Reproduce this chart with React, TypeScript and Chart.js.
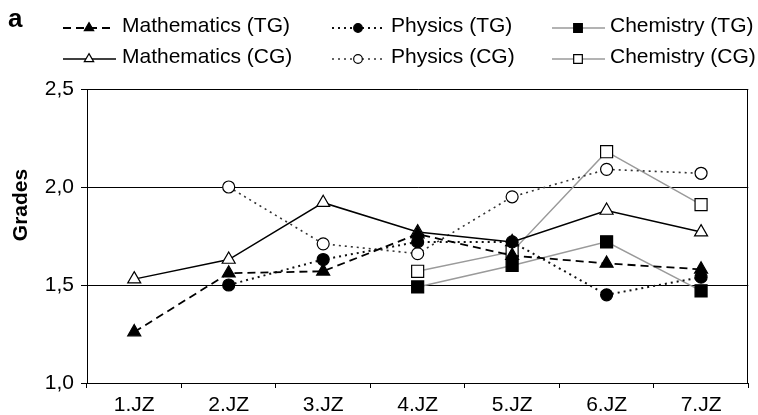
import React, { useEffect, useRef } from "react";
import { Chart, registerables } from "chart.js";

Chart.register(...registerables);

// ---------- data ----------
const categories = ["1.JZ", "2.JZ", "3.JZ", "4.JZ", "5.JZ", "6.JZ", "7.JZ"];
const mathTG = [1.26, 1.56, 1.57, 1.76, 1.65, 1.61, 1.58];
const physicsTG = [null, 1.5, 1.63, 1.72, 1.72, 1.45, 1.54];
const chemistryTG = [null, null, null, 1.49, 1.6, 1.72, 1.47];
const mathCG = [1.53, 1.63, 1.92, 1.77, 1.72, 1.88, 1.77];
const physicsCG = [null, 2.0, 1.71, 1.66, 1.95, 2.09, 2.07];
const chemistryCG = [null, null, null, 1.57, 1.67, 2.18, 1.91];
const yTicks = [1.0, 1.5, 2.0, 2.5];
const seriesLabels = [
  "Mathematics (TG)",
  "Physics (TG)",
  "Chemistry (TG)",
  "Mathematics (CG)",
  "Physics (CG)",
  "Chemistry (CG)",
];
const yTitle = "Grades";
const panelLetter = "a";

// ---------- styles ----------
const FONT = "'Liberation Sans', Arial, Helvetica, sans-serif";
type Marker = "triangle" | "circle" | "rect";
const styles: {
  color: string;
  dash: number[];
  width: number;
  marker: Marker;
  filled: boolean;
  radius: number;
}[] = [
  { color: "#000", dash: [8, 5], width: 1.8, marker: "triangle", filled: true, radius: 7.5 },
  { color: "#111", dash: [2, 4], width: 2, marker: "circle", filled: true, radius: 6 },
  { color: "#9a9a9a", dash: [], width: 1.5, marker: "rect", filled: true, radius: 8.5 },
  { color: "#000", dash: [], width: 1.5, marker: "triangle", filled: false, radius: 7.5 },
  { color: "#333", dash: [2, 4], width: 1.6, marker: "circle", filled: false, radius: 6 },
  { color: "#9a9a9a", dash: [], width: 1.5, marker: "rect", filled: false, radius: 8.5 },
];
// legend layout: [x0, x1, markerX, textX, rowY]
const legendPos = [
  [63, 114, 89, 122, 26],
  [332, 383, 358, 391, 26],
  [552, 605, 578, 610, 26],
  [63, 116, 89, 122, 57],
  [332, 383, 358, 391, 57],
  [552, 605, 578, 610, 57],
];

function drawMarker(
  ctx: CanvasRenderingContext2D,
  type: Marker,
  x: number,
  y: number,
  r: number,
  filled: boolean
) {
  ctx.save();
  ctx.setLineDash([]);
  ctx.lineWidth = 1.2;
  ctx.strokeStyle = "#000";
  ctx.fillStyle = filled ? "#000" : "#fff";
  ctx.beginPath();
  if (type === "circle") {
    ctx.arc(x, y, r, 0, Math.PI * 2);
  } else if (type === "triangle") {
    let a = 0;
    for (let i = 0; i < 3; i++) {
      const px = x + Math.sin(a) * r;
      const py = y - Math.cos(a) * r;
      if (i === 0) ctx.moveTo(px, py);
      else ctx.lineTo(px, py);
      a += (2 * Math.PI) / 3;
    }
    ctx.closePath();
  } else {
    const s = Math.SQRT1_2 * r;
    ctx.rect(x - s, y - s, 2 * s, 2 * s);
  }
  ctx.fill();
  ctx.stroke();
  ctx.restore();
}

const decorPlugin = {
  id: "decor",
  afterDraw(chart: any) {
    const ctx: CanvasRenderingContext2D = chart.ctx;
    const a = chart.chartArea;
    ctx.save();
    // right frame
    ctx.strokeStyle = "#000";
    ctx.lineWidth = 1;
    ctx.setLineDash([]);
    ctx.beginPath();
    ctx.moveTo(Math.round(a.right) - 0.5, a.top);
    ctx.lineTo(Math.round(a.right) - 0.5, a.bottom);
    ctx.stroke();

    // panel letter
    ctx.fillStyle = "#000";
    ctx.font = `bold 26px ${FONT}`;
    ctx.textAlign = "left";
    ctx.textBaseline = "alphabetic";
    ctx.fillText(panelLetter, 8, 27);

    // y title
    ctx.save();
    ctx.translate(27, 205);
    ctx.rotate(-Math.PI / 2);
    ctx.font = `bold 21px ${FONT}`;
    ctx.textAlign = "center";
    ctx.textBaseline = "alphabetic";
    ctx.fillText(yTitle, 0, 0);
    ctx.restore();

    // legend
    seriesLabels.forEach((lab, i) => {
      const st = styles[i];
      const [x0, x1, mx, tx, ry] = legendPos[i];
      const ly = ry + 2;
      ctx.save();
      ctx.strokeStyle = st.color;
      ctx.lineWidth = st.width;
      ctx.setLineDash(st.dash);
      ctx.beginPath();
      ctx.moveTo(x0, ly);
      ctx.lineTo(x1, ly);
      ctx.stroke();
      ctx.restore();
      drawMarker(ctx, st.marker, mx, ly, st.radius * 0.72, st.filled);
      ctx.fillStyle = "#000";
      ctx.font = `21px ${FONT}`;
      ctx.textAlign = "left";
      ctx.textBaseline = "middle";
      ctx.fillText(lab, tx, ry);
    });
    ctx.restore();
  },
};

export default function App() {
  const ref = useRef<HTMLCanvasElement | null>(null);

  useEffect(() => {
    document.body.style.margin = "0";
    const canvas = ref.current;
    if (!canvas) return;
    const series = [mathTG, physicsTG, chemistryTG, mathCG, physicsCG, chemistryCG];
    const datasets = series.map((d, i) => {
      const st = styles[i];
      return {
        label: seriesLabels[i],
        data: d,
        borderColor: st.color,
        borderWidth: st.width,
        borderDash: st.dash,
        pointStyle: st.marker,
        pointRadius: st.radius,
        pointHoverRadius: st.radius,
        pointBackgroundColor: st.filled ? "#000" : "#fff",
        pointBorderColor: "#000",
        pointBorderWidth: 1.2,
        fill: false,
        tension: 0,
        spanGaps: false,
      };
    });

    const chart = new Chart(canvas, {
      type: "line",
      data: { labels: categories, datasets: datasets as any },
      options: {
        animation: false,
        responsive: false,
        maintainAspectRatio: false,
        layout: { padding: { top: 89, right: 7, left: 0, bottom: 0 } },
        plugins: {
          legend: { display: false },
          title: { display: false },
          tooltip: { enabled: false },
        },
        scales: {
          x: {
            type: "category",
            offset: true,
            grid: {
              offset: true,
              drawOnChartArea: false,
              color: "#000",
              lineWidth: 1,
              tickLength: 5,
            },
            border: { display: true, color: "#000", width: 1 },
            ticks: {
              color: "#000",
              font: { family: FONT, size: 21 },
              padding: 5,
              maxRotation: 0,
              autoSkip: false,
            },
            afterFit: (s: any) => {
              s.height = 32;
            },
          },
          y: {
            min: 1,
            max: 2.5,
            afterBuildTicks: (s: any) => {
              s.ticks = yTicks.map((v) => ({ value: v }));
            },
            grid: {
              color: "#000",
              lineWidth: 1,
              tickLength: 6,
              drawOnChartArea: true,
            },
            border: { display: true, color: "#000", width: 1 },
            ticks: {
              color: "#000",
              font: { family: FONT, size: 21 },
              padding: 7,
              callback: (v: any) => Number(v).toFixed(1).replace(".", ","),
            },
            afterFit: (s: any) => {
              s.width = 87;
            },
          },
        },
      },
      plugins: [decorPlugin],
    });
    return () => chart.destroy();
  }, []);

  return (
    <canvas
      ref={ref}
      width={758}
      height={415}
      style={{ display: "block", width: 758, height: 415 }}
    />
  );
}
